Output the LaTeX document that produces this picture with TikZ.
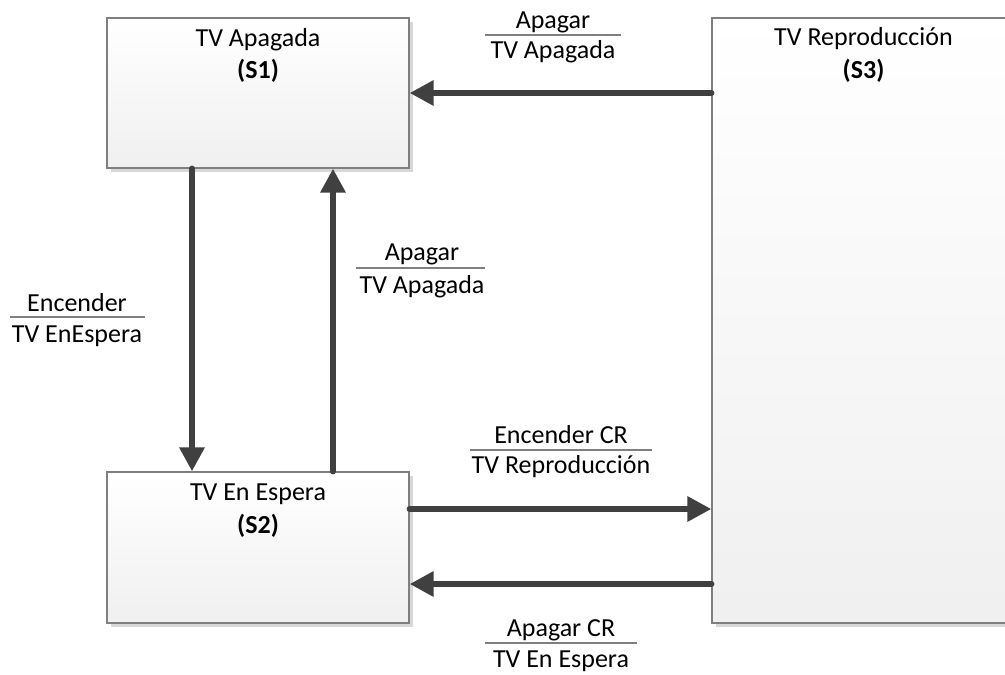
\documentclass[tikz,border=0pt]{standalone}
\usepackage{fontspec}
\setmainfont{Carlito}
\usetikzlibrary{arrows.meta,shadows}
\definecolor{arrowgray}{HTML}{404040}
\definecolor{boxborder}{HTML}{7F7F7F}
\definecolor{shadowgray}{HTML}{D8D8D8}
\begin{document}
\begin{tikzpicture}[x=1pt,y=-1pt,
  statebox/.style={draw=boxborder,line width=1.2pt,top color=white,bottom color=black!6,
    drop shadow={shadow xshift=4pt,shadow yshift=-4pt,fill=shadowgray,opacity=1},
    minimum width=302pt,inner sep=0pt},
  txt/.style={font=\fontsize{26}{30}\selectfont,anchor=base,inner sep=0pt},
  btxt/.style={txt,font=\fontsize{26}{30}\selectfont\bfseries},
  trans/.style={draw=arrowgray,line width=6pt,line cap=round,-{Triangle[length=24pt,width=24pt]}},
  sep/.style={draw=black!50,line width=1.2pt}]
\clip (0,0) rectangle (1005,675);
\fill[white] (0,0) rectangle (1005,675);
% states
\node[statebox,minimum height=150pt] (S1) at (258,93) {};
\node[statebox,minimum height=151pt] (S2) at (258,547.5) {};
\node[statebox,minimum width=303pt,minimum height=605pt] (S3) at (863.5,320.5) {};
\node[txt] (S1a) at ([yshift=-29pt]S1.north) {TV Apagada};
\node[btxt] (S1b) at ([yshift=-61pt]S1.north) {(S1)};
\node[txt] (S2a) at ([yshift=-29pt]S2.north) {TV En Espera};
\node[btxt] (S2b) at ([yshift=-62pt]S2.north) {(S2)};
\node[txt] (S3a) at ([yshift=-28pt]S3.north) {TV Reproducción};
\node[btxt] (S3b) at ([yshift=-61pt]S3.north) {(S3)};
% transitions
\draw[trans] (S3.west |- 0,93) -- (S1.east |- 0,93);
\draw[trans] (192,0 |- S1.south) -- (192,0 |- S2.north);
\draw[trans] (333,0 |- S2.north) -- (333,0 |- S1.south);
\draw[trans] (S2.east |- 0,509) -- (S3.west |- 0,509);
\draw[trans] (S3.west |- 0,584) -- (S2.east |- 0,584);
% labels
\node[txt] (L1a) at (553,28) {Apagar};
\coordinate (L1l) at (485,35); \coordinate (L1r) at (621,35);
\draw[sep] (L1l) -- (L1r);
\node[txt] (L1b) at (553,58) {TV Apagada};

\node[txt] (L2a) at (77,311) {Encender};
\coordinate (L2l) at (10,317); \coordinate (L2r) at (145,317);
\draw[sep] (L2l) -- (L2r);
\node[txt] (L2b) at (77,342) {TV EnEspera};

\node[txt] (L3a) at (422,260) {Apagar};
\coordinate (L3l) at (356,268); \coordinate (L3r) at (485,268);
\draw[sep] (L3l) -- (L3r);
\node[txt] (L3b) at (422,293) {TV Apagada};

\node[txt] (L4a) at (561,443) {Encender CR};
\coordinate (L4l) at (470,450); \coordinate (L4r) at (652,450);
\draw[sep] (L4l) -- (L4r);
\node[txt] (L4b) at (561,473) {TV Reproducción};

\node[txt] (L5a) at (561,636) {Apagar CR};
\coordinate (L5l) at (485,643); \coordinate (L5r) at (637,643);
\draw[sep] (L5l) -- (L5r);
\node[txt] (L5b) at (561,667) {TV En Espera};
\end{tikzpicture}
\end{document}
